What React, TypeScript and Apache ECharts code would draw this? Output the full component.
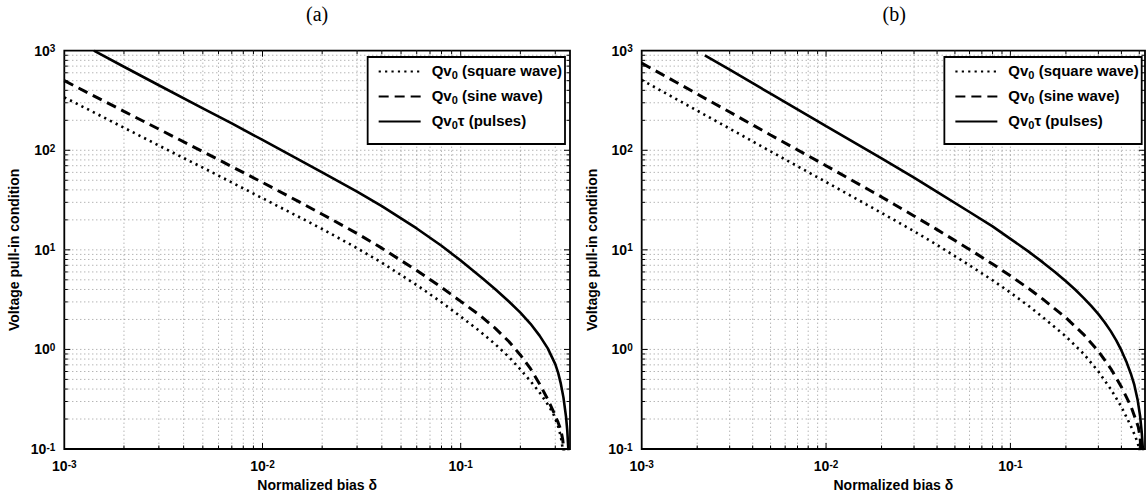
import React, { useEffect, useRef } from "react";
import * as echarts from "echarts";

// ---------- data ----------
// panel (a)
const squareA: [number, number][] = [
  [0.001, 340], [0.002, 168.5], [0.003, 111.6], [0.005, 66.9], [0.01, 33], [0.015, 21.8],
  [0.02, 16.2], [0.03, 10.4], [0.04, 7.43], [0.06, 4.43], [0.08, 2.98], [0.1, 2.14],
  [0.125, 1.52], [0.15, 1.12], [0.175, 0.84], [0.2, 0.63], [0.225, 0.48], [0.25, 0.37],
  [0.275, 0.28], [0.293, 0.227], [0.31, 0.17], [0.317, 0.143], [0.323, 0.12], [0.327, 0.1],
  [0.329, 0.08],
];
const sineA: [number, number][] = [
  [0.001, 500], [0.002, 246], [0.003, 163], [0.005, 97], [0.01, 47.5], [0.015, 31],
  [0.02, 22.8], [0.03, 14.6], [0.04, 10.4], [0.06, 6.2], [0.08, 4.2], [0.1, 3.04],
  [0.125, 2.2], [0.15, 1.62], [0.175, 1.2], [0.2, 0.88], [0.225, 0.64], [0.25, 0.45],
  [0.275, 0.315], [0.293, 0.24], [0.31, 0.185], [0.32, 0.155], [0.327, 0.125], [0.331, 0.1],
  [0.333, 0.08],
];
const pulseA: [number, number][] = [
  [0.00141, 1000], [0.002, 690], [0.003, 450], [0.005, 264], [0.007, 186], [0.01, 127],
  [0.015, 82], [0.02, 60], [0.03, 38.5], [0.04, 27.5], [0.06, 16.4], [0.08, 11.0],
  [0.1, 7.8], [0.13, 5.1], [0.15, 4.0], [0.175, 3.03], [0.2, 2.34], [0.225, 1.81],
  [0.25, 1.376], [0.275, 1.024], [0.3, 0.711], [0.31, 0.584], [0.32, 0.453], [0.33, 0.328],
  [0.34, 0.21], [0.345, 0.152], [0.349, 0.101], [0.3505, 0.08],
];
// panel (b)
const squareB: [number, number][] = [
  [0.001, 508], [0.002, 250], [0.003, 165], [0.005, 97.5], [0.01, 48], [0.02, 23.5],
  [0.03, 15.4], [0.04, 11.2], [0.06, 7.0], [0.08, 4.95], [0.1, 3.72], [0.125, 2.75],
  [0.15, 2.1], [0.2, 1.35], [0.25, 0.9], [0.3, 0.6], [0.35, 0.4], [0.4, 0.265],
  [0.45, 0.17], [0.475, 0.135], [0.49, 0.115], [0.5, 0.1], [0.503, 0.085],
];
const sineB: [number, number][] = [
  [0.001, 750], [0.002, 368], [0.003, 242], [0.005, 142.5], [0.01, 70], [0.02, 34],
  [0.03, 21.9], [0.04, 15.96], [0.06, 10.1], [0.08, 7.21], [0.1, 5.49], [0.125, 4.11],
  [0.15, 3.2], [0.2, 2.08], [0.25, 1.41], [0.3, 0.961], [0.35, 0.643], [0.4, 0.42],
  [0.45, 0.27], [0.475, 0.205], [0.494, 0.166], [0.505, 0.132], [0.51, 0.1], [0.512, 0.085],
];
const pulseB: [number, number][] = [
  [0.0022, 900], [0.003, 644], [0.005, 370], [0.01, 175], [0.02, 83], [0.03, 53],
  [0.04, 38.3], [0.06, 24], [0.08, 17.2], [0.1, 12.9], [0.125, 9.65], [0.15, 7.48],
  [0.175, 5.95], [0.2, 4.83], [0.225, 3.97], [0.25, 3.28], [0.275, 2.72], [0.3, 2.26],
  [0.325, 1.865], [0.35, 1.527], [0.375, 1.233], [0.4, 0.977], [0.425, 0.758], [0.45, 0.57],
  [0.47, 0.44], [0.49, 0.31], [0.505, 0.215], [0.515, 0.15], [0.522, 0.105], [0.525, 0.085],
];

const panelTitles = ["(a)", "(b)"];
const seriesNames = ["Qv0 (square wave)", "Qv0 (sine wave)", "Qv0τ (pulses)"];
const legendRich = [
  "{t|Qv}{s|0}{t| (square wave)}",
  "{t|Qv}{s|0}{t| (sine wave)}",
  "{t|Qv}{s|0}{t|τ (pulses)}",
];
const xTitle = "Normalized bias δ";
const yTitle = "Voltage pull-in condition";
const xMin = 0.001;
const xMaxA = 0.356;
const xMaxB = 0.537;
const yMin = 0.1;
const yMax = 1000;

// ---------- helpers ----------
const SANS = "Liberation Sans, Arial, Helvetica, sans-serif";
const SERIF = "Liberation Serif, Times New Roman, serif";

function logGridValues(lo: number, hi: number): [number, number][] {
  const out: [number, number][] = [];
  const d0 = Math.floor(Math.log10(lo));
  const d1 = Math.ceil(Math.log10(hi));
  for (let d = d0; d <= d1; d++) {
    for (let k = 1; k <= 9; k++) {
      const v = k * Math.pow(10, d);
      if (v > lo * 1.0001 && v < hi * 0.9999) out.push([v, k === 1 ? 1 : 0]);
    }
  }
  return out;
}

function gridData(xmax: number) {
  const data: number[][] = [];
  logGridValues(xMin, xmax).forEach(([v, m]) => data.push([v, 1, 0, m]));
  logGridValues(yMin, yMax).forEach(([v, m]) => data.push([0.01, v, 1, m]));
  return data;
}

const powLabel = (v: number) => {
  const l = Math.log10(v);
  const r = Math.round(l);
  if (Math.abs(l - r) > 1e-6) return "";
  return `{b|10}{s|${r}}`;
};

const labelRich = {
  b: { fontSize: 14, fontWeight: "bold", fontFamily: SANS, color: "#000", lineHeight: 14, verticalAlign: "bottom", padding: [5, 0, 0, 0] },
  s: { fontSize: 10, fontWeight: "bold", fontFamily: SANS, color: "#000", lineHeight: 10, verticalAlign: "top" },
};

const renderGrid = (params: any, api: any) => {
  const cs = params.coordSys;
  const orient = api.value(2);
  const major = api.value(3);
  const L = major ? 6 : 3.5;
  const dot = { stroke: "#8a8a8a", lineWidth: 0.9, lineDash: [1, 3] };
  const tick = { stroke: "#000", lineWidth: 1 };
  const children: any[] = [];
  if (orient === 0) {
    const px = api.coord([api.value(0), api.value(1)])[0];
    children.push({ type: "line", shape: { x1: px, y1: cs.y, x2: px, y2: cs.y + cs.height }, style: dot });
    children.push({ type: "line", shape: { x1: px, y1: cs.y + cs.height, x2: px, y2: cs.y + cs.height - L }, style: tick });
    children.push({ type: "line", shape: { x1: px, y1: cs.y, x2: px, y2: cs.y + L }, style: tick });
  } else {
    const py = api.coord([api.value(0), api.value(1)])[1];
    children.push({ type: "line", shape: { x1: cs.x, y1: py, x2: cs.x + cs.width, y2: py }, style: dot });
    children.push({ type: "line", shape: { x1: cs.x, y1: py, x2: cs.x + L, y2: py }, style: tick });
    children.push({ type: "line", shape: { x1: cs.x + cs.width, y1: py, x2: cs.x + cs.width - L, y2: py }, style: tick });
  }
  return { type: "group", children };
};

const lineStyles = [
  { color: "#000", width: 2.6, type: [2.2, 4.2], cap: "butt" },
  { color: "#000", width: 3, type: [10, 6], cap: "butt" },
  { color: "#000", width: 2.6, type: "solid" },
];

export default function App() {
  const ref = useRef<HTMLDivElement>(null);

  useEffect(() => {
    document.body.style.margin = "0";
    if (!ref.current) return;
    const chart = echarts.init(ref.current, undefined, { renderer: "svg" });

    const grids = [
      { left: 64.3, top: 50.7, width: 505.7, height: 398.3 },
      { left: 641.7, top: 50.7, width: 505, height: 398.3 },
    ];
    const xMaxes = [xMaxA, xMaxB];
    const panels = [
      [squareA, sineA, pulseA],
      [squareB, sineB, pulseB],
    ];

    const series: any[] = [];
    panels.forEach((sets, p) => {
      series.push({
        type: "custom",
        coordinateSystem: "cartesian2d",
        xAxisIndex: p,
        yAxisIndex: p,
        data: gridData(xMaxes[p]),
        encode: { x: 0, y: 1 },
        renderItem: renderGrid,
        silent: true,
        z: 1,
        clip: false,
      });
      sets.forEach((d, i) => {
        series.push({
          type: "line",
          name: seriesNames[i],
          xAxisIndex: p,
          yAxisIndex: p,
          data: d,
          symbol: "none",
          smooth: false,
          color: "#000",
          itemStyle: { color: "#000" },
          lineStyle: lineStyles[i],
          z: 3,
          clip: true,
        });
      });
    });

    const option: any = {
      animation: false,
      backgroundColor: "#fff",
      grid: grids.map((g) => ({
        ...g,
        show: true,
        borderColor: "#000",
        borderWidth: 1.8,
        backgroundColor: "transparent",
        containLabel: false,
      })),
      xAxis: grids.map((_, p) => ({
        type: "log",
        logBase: 10,
        gridIndex: p,
        min: xMin,
        max: xMaxes[p],
        name: xTitle,
        nameLocation: "middle",
        nameGap: 27,
        nameTextStyle: { fontSize: 14, fontWeight: "bold", fontFamily: SANS, color: "#000", verticalAlign: "top" },
        axisLine: { show: false },
        axisTick: { show: false },
        splitLine: { show: false },
        axisLabel: { formatter: powLabel, rich: labelRich, margin: 10, showMaxLabel: true, showMinLabel: true },
      })),
      yAxis: grids.map((_, p) => ({
        type: "log",
        logBase: 10,
        gridIndex: p,
        min: yMin,
        max: yMax,
        name: yTitle,
        nameLocation: "middle",
        nameGap: 43,
        nameRotate: 90,
        nameTextStyle: { fontSize: 14, fontWeight: "bold", fontFamily: SANS, color: "#000" },
        axisLine: { show: false },
        axisTick: { show: false },
        splitLine: { show: false },
        axisLabel: { formatter: powLabel, rich: labelRich, margin: 9 },
      })),
      legend: grids.map((g) => ({
        data: seriesNames,
        orient: "vertical",
        right: 1148 - (g.left + g.width) + 5,
        top: 57,
        padding: [6, 3, 14, 10],
        itemWidth: 42,
        itemHeight: 14,
        itemGap: 8,
        backgroundColor: "#fff",
        borderColor: "#000",
        borderWidth: 1.8,
        borderRadius: 0,
        selectedMode: false,
        itemStyle: { opacity: 0, borderWidth: 0, color: "rgba(0,0,0,0)" },
        formatter: (name: string) => legendRich[seriesNames.indexOf(name)],
        textStyle: {
          color: "#000",
          padding: [0, 0, 0, 6],
          rich: {
            t: { fontSize: 15, fontWeight: "bold", fontFamily: SANS, color: "#000", lineHeight: 17, verticalAlign: "top", padding: [0, 0, 2, 0] },
            s: { fontSize: 11, fontWeight: "bold", fontFamily: SANS, color: "#000", lineHeight: 11, verticalAlign: "bottom" },
          },
        },
      })),
      graphic: grids.map((g, p) => ({
        type: "text",
        x: g.left + g.width / 2,
        y: 4,
        style: {
          text: panelTitles[p],
          font: `20px ${SERIF}`,
          fill: "#000",
          textAlign: "center",
          textVerticalAlign: "top",
        },
        silent: true,
      })),
      series,
    };

    chart.setOption(option);
    return () => chart.dispose();
  }, []);

  return (
    <div
      ref={ref}
      style={{ position: "absolute", left: 0, top: 0, width: 1148, height: 499, background: "#fff" }}
    />
  );
}
